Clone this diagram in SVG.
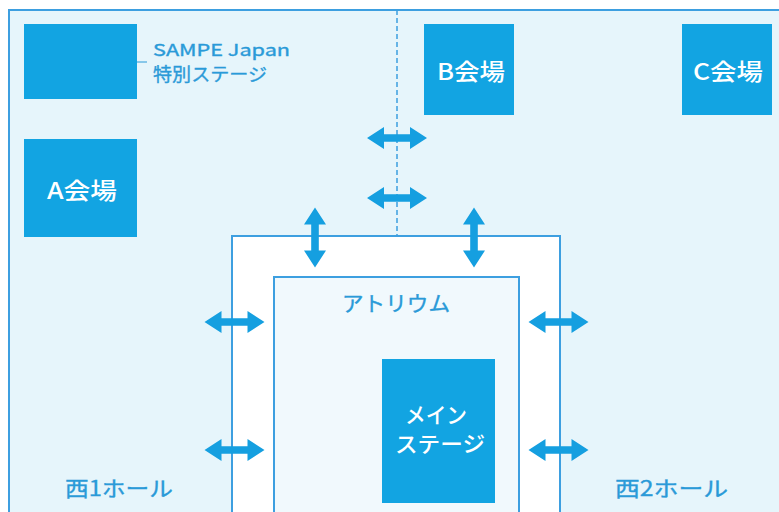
<svg xmlns="http://www.w3.org/2000/svg" width="779" height="512" viewBox="0 0 779 512">
<style>
.bg{fill:#e6f5fb}
.ln{fill:none;stroke:#3d9fe0;stroke-width:2}
.box{fill:#12a4e2}
.wt{fill:#ffffff;font-family:"Noto Sans CJK JP","Noto Sans",sans-serif;font-weight:500;text-anchor:middle}
.bt{fill:#2a9ad8;stroke:#2a9ad8;stroke-width:0.35;font-family:"Noto Sans CJK JP","Noto Sans",sans-serif;font-weight:400}
.arr{fill:#159fe0}
</style>
<defs>
<path id="dh" d="M-30,0 L-13,-11 L-13,-3.8 L13,-3.8 L13,-11 L30,0 L13,11 L13,3.8 L-13,3.8 L-13,11 Z"/>
</defs>
<rect width="779" height="512" fill="#ffffff"/>
<g id="floor">
<rect class="bg" x="9" y="10" width="770" height="502"/>
<path class="ln" d="M9,512 V10 H779"/>
<line x1="397" y1="10" x2="397" y2="236" stroke="#3d9fe0" stroke-width="1.5" stroke-dasharray="5 3"/>
</g>
<g id="corridor">
<rect x="232" y="236" width="328" height="280" fill="#ffffff"/>
<path class="ln" d="M232,512 V236 H560 V512"/>
</g>
<g id="atrium">
<rect x="274" y="277" width="245" height="240" fill="#f1f9fd"/>
<path class="ln" d="M274,512 V277 H519 V512"/>
<text class="bt" x="396" y="311" font-size="21" text-anchor="middle" textLength="108" lengthAdjust="spacingAndGlyphs">アトリウム</text>
</g>
<g id="sampe">
<rect class="box" x="24" y="24" width="113" height="75"/>
<line x1="137" y1="62" x2="147" y2="62" stroke="#2a9ad8" stroke-width="1"/>
<text class="bt" x="153" y="56" font-size="16" textLength="137" lengthAdjust="spacingAndGlyphs">SAMPE Japan</text>
<text class="bt" x="153" y="81" font-size="18" textLength="114" lengthAdjust="spacingAndGlyphs">特別ステージ</text>
</g>
<g id="hallA">
<rect class="box" x="24" y="139" width="113" height="98"/>
<text class="wt" x="82" y="199" font-size="23" textLength="70" lengthAdjust="spacingAndGlyphs">A会場</text>
</g>
<g id="hallB">
<rect class="box" x="424" y="24" width="90" height="91"/>
<text class="wt" x="471" y="80" font-size="23" textLength="68" lengthAdjust="spacingAndGlyphs">B会場</text>
</g>
<g id="hallC">
<rect class="box" x="682" y="24" width="90" height="91"/>
<text class="wt" x="728" y="80" font-size="23" textLength="70" lengthAdjust="spacingAndGlyphs">C会場</text>
</g>
<g id="mainstage">
<rect class="box" x="382" y="359" width="113" height="144"/>
<text class="wt" x="436" y="423" font-size="22" textLength="62" lengthAdjust="spacingAndGlyphs">メイン</text>
<text class="wt" x="440" y="452" font-size="22" textLength="90" lengthAdjust="spacingAndGlyphs">ステージ</text>
</g>
<g id="west1">
<text class="bt" x="65" y="496" font-size="21" textLength="108" lengthAdjust="spacingAndGlyphs">西1ホール</text>
</g>
<g id="west2">
<text class="bt" x="615" y="496" font-size="21" textLength="113" lengthAdjust="spacingAndGlyphs">西2ホール</text>
</g>
<g id="connectors" class="arr">
<use href="#dh" transform="translate(397,138)"/>
<use href="#dh" transform="translate(397,198)"/>
<use href="#dh" transform="translate(234.5,322)"/>
<use href="#dh" transform="translate(234.5,450)"/>
<use href="#dh" transform="translate(558.5,322)"/>
<use href="#dh" transform="translate(558.5,450)"/>
<use href="#dh" transform="translate(315,237.5) rotate(90)"/>
<use href="#dh" transform="translate(474,237.5) rotate(90)"/>
</g>
</svg>
